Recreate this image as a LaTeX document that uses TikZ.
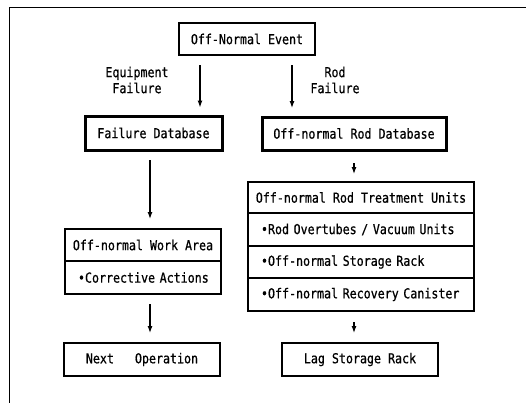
\documentclass[tikz,border=0pt]{standalone}
\usepackage{fontspec}
\newfontfamily\dotfont[FakeStretch=0.85,FakeBold=0.7]{DejaVu Sans Mono}
\usetikzlibrary{arrows.meta}
\begin{document}
\begin{tikzpicture}[x=1pt,y=-1pt,
  every node/.style={font=\dotfont\fontsize{13.7}{16}\selectfont, outer sep=0pt, inner sep=0pt},
  box/.style={draw, line width=1.2pt, align=center},
  thickbox/.style={draw, line width=3pt, align=center},
  row/.style={draw, line width=1.2pt, inner xsep=6pt, align=left},
  sep/.style={line width=2.4pt},
  arr/.style={-{Latex[length=7pt,width=5pt]}, line width=1.2pt},
  lbl/.style={align=center}]
\useasboundingbox (0,0) rectangle (526,405);
% frame
\draw[line width=1pt] (526,7) -- (9,7) -- (9,403);
% nodes
\node[box, minimum width=136pt, minimum height=32pt] (event) at (247,39) {Off-Normal Event};
\node[lbl] (eqlbl) at (137,80) {Equipment\\Failure};
\node[lbl] (rodlbl) at (335,80) {Rod\\Failure};
\node[thickbox, minimum width=137pt, minimum height=34pt] (faildb) at (153.5,133) {Failure Database};
\node[thickbox, minimum width=184pt, minimum height=33pt] (roddb) at (354,133.5) {Off-normal Rod Database};
% work area stack
\node[box, minimum width=156pt, minimum height=32pt] (workhead) at (143,245) {Off-normal Work Area};
\node[row, text width=144pt, minimum height=33pt, anchor=north] (workrow) at (workhead.south) {\hspace*{7pt}•Corrective Actions};
\draw[sep] (workhead.south west) -- (workhead.south east);
% treatment stack
\node[box, minimum width=226pt, minimum height=31pt] (treat) at (361,197.5) {Off-normal Rod Treatment Units};
\node[row, text width=214pt, minimum height=33pt, anchor=north] (r1) at (treat.south) {\hspace*{7pt}•Rod Overtubes / Vacuum Units};
\node[row, text width=214pt, minimum height=32pt, anchor=north] (r2) at (r1.south) {\hspace*{7pt}•Off-normal Storage Rack};
\node[row, text width=214pt, minimum height=33pt, anchor=north] (r3) at (r2.south) {\hspace*{7pt}•Off-normal Recovery Canister};
\draw[sep] (treat.south west) -- (treat.south east);
% bottom boxes
\node[box, minimum width=156pt, minimum height=33pt] (next) at (142,359.5) {Next\ \ \ Operation};
\node[box, minimum width=156pt, minimum height=33pt] (lag) at (360,359.5) {Lag Storage Rack};
% arrows
\coordinate (xl) at (200,0);
\coordinate (xr) at (292,0);
\coordinate (xc) at (150,0);
\draw[arr, shorten <=10pt, shorten >=8.5pt] (event.south -| xl) -- (faildb.north -| xl);
\draw[arr, shorten <=10pt, shorten >=9pt] (event.south -| xr) -- (roddb.north -| xr);
\draw[arr, shorten <=10pt, shorten >=10pt] (faildb.south -| xc) -- (workhead.north -| xc);
\draw[arr, shorten <=10pt, shorten >=10pt] (workrow.south -| xc) -- (next.north -| xc);
\draw[arr, shorten <=13pt, shorten >=8pt] (roddb.south) -- (treat.north -| roddb.south);
\draw[arr, shorten <=11pt, shorten >=10pt] (r3.south -| roddb.south) -- (lag.north -| roddb.south);
\end{tikzpicture}
\end{document}
